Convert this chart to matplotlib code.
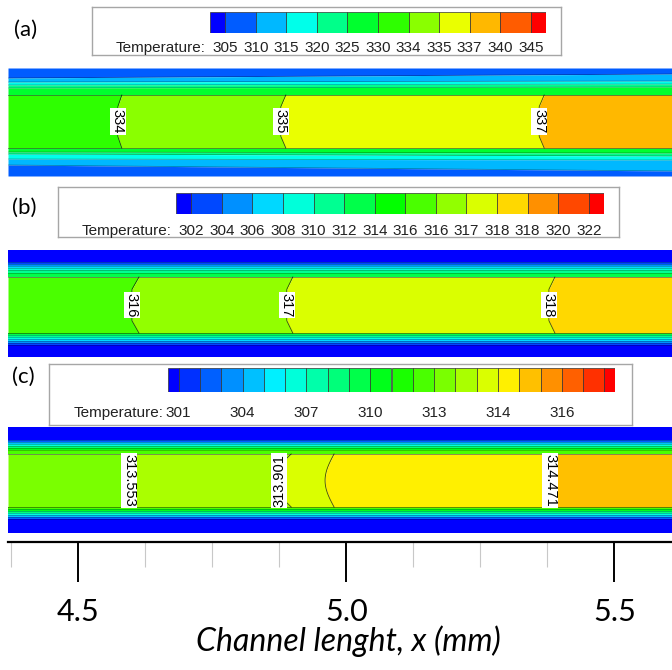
import numpy as np
import matplotlib.pyplot as plt
from matplotlib.colors import LinearSegmentedColormap
from matplotlib.ticker import MultipleLocator, FormatStrFormatter

plt.rcParams['font.family'] = ['Liberation Sans', 'DejaVu Sans']

W, H = 672, 670

# legend levels (K)
levels_a = ['305', '310', '315', '320', '325', '330', '334', '335', '337', '340', '345']
levels_b = ['302', '304', '306', '308', '310', '312', '314', '316', '316', '317', '318', '318', '320', '322']
levels_c = ['301', '304', '307', '310', '313', '314', '316']
nbound_c = 21  # contour levels in legend (c), every third one labelled

# isotherms in the channel core: x (mm) where they meet the wall
iso_x_a = [4.581, 4.887, 5.369]
iso_x_b = [4.613, 4.900, 5.389]
iso_x_c = [4.606, 4.897, 4.977, 5.393]
iso_lab_a = ['334', '335', '337']
iso_lab_b = ['316', '317', '318']
iso_lab_c = ['313.553', '313.901', '', '314.471']

# legend colour index filling the core between isotherms
core_a = [6, 7, 8, 9]
core_b = [8, 9, 10, 11]
core_c = [13, 14, 15, 16, 17]

# wall layers: rows from panel top at left / right end, colour index of each layer
top_a_l = [0, 10, 14, 17, 20, 27]
top_a_r = [0, 6, 13, 16, 19, 27]
top_a_c = [1, 2, 3, 4, 5]
bot_a_l = [80, 84, 86, 91, 97, 108]
bot_a_r = [80, 85, 88, 92, 103, 108]
bot_a_c = [5, 4, 3, 2, 1]

top_b_l = [0, 12, 14, 16, 18, 20, 23, 27]
top_b_r = [0, 12, 14, 16, 18, 20, 23, 27]
top_b_c = [0, 1, 2, 3, 4, 5, 6]
bot_b_l = [83, 85, 87, 89, 91, 93, 95, 107]
bot_b_r = [83, 85, 87, 89, 91, 93, 95, 107]
bot_b_c = [6, 5, 4, 3, 2, 1, 0]

top_c_l = [0, 13, 15, 17, 19, 21, 23, 27]
top_c_r = [0, 13, 15, 17, 19, 21, 23, 27]
top_c_c = [0, 2, 4, 6, 8, 10, 12]
bot_c_l = [80, 82, 84, 86, 88, 90, 92, 106]
bot_c_r = [80, 82, 84, 86, 88, 90, 92, 106]
bot_c_c = [12, 10, 8, 6, 4, 2, 0]

cmap = LinearSegmentedColormap.from_list(
    'fluent', ['#0000ff', '#00ffff', '#00ff00', '#ffff00', '#ff0000'])


def band_colors(n):
    return [cmap(i / (n - 1)) for i in range(n)]


fig = plt.figure(figsize=(W / 100, H / 100), dpi=100)


def px_axes(x0, y0, x1, y1):
    return fig.add_axes([x0 / W, 1 - y1 / H, (x1 - x0) / W, (y1 - y0) / H])


X0 = 4.5 - (78.4 - 8) / 536
X1 = 4.5 + (672 - 78.4) / 536
MM_PX = 1 / 536
LEG_FONT = 11


def legend(box, bar, levels, nb, every, cols, pad):
    bx = px_axes(*box)
    bx.set_xticks([])
    bx.set_yticks([])
    for s in bx.spines.values():
        s.set_color('#a6a6a6')
        s.set_linewidth(1)
    cx = px_axes(*bar)
    left = [-0.5] + list(range(nb - 1)) + [nb - 1]
    width = [0.5] + [1] * (nb - 1) + [0.5]
    cx.bar(left, 1, width=width, align='edge', color=cols,
           edgecolor='#333333', linewidth=0.5)
    cx.set_xlim(-0.5, nb - 0.5)
    cx.set_ylim(0, 1)
    cx.set_yticks([])
    cx.set_xticks(range(0, nb, every))
    cx.set_xticklabels(levels)
    cx.tick_params(length=0, pad=pad, labelsize=LEG_FONT, labelcolor='#222222')
    for s in cx.spines.values():
        s.set_visible(False)
    cx.annotate('Temperature:', xy=(0, 0), xycoords='axes fraction',
                xytext=(-3, -pad), textcoords='offset points', ha='right', va='top',
                fontsize=LEG_FONT, color='#222222')


def panel(rows, height, cols, walls, iso_x, bulge, arc, labels, rots, core):
    ax = px_axes(8, rows[0], 672, rows[1])
    ax.set_xlim(X0, X1)
    ax.set_ylim(height, 0)
    ax.axis('off')
    for yl, yr, cc in walls:
        for k in range(len(cc)):
            ax.fill_between([X0, X1], [yl[k], yr[k]], [yl[k + 1], yr[k + 1]],
                            color=cols[cc[k]], lw=0)
        for a, b in zip(yl[1:-1], yr[1:-1]):
            ax.plot([X0, X1], [a, b], color='k', lw=0.5, alpha=0.35)
    top, bot = walls[0][0][-1], walls[1][0][0]
    y = np.linspace(top, bot, 61)
    t = (y - top) / (bot - top)
    edges = [np.full_like(y, X0)]
    for x, b, a in zip(iso_x, bulge, arc):
        prof = np.sin(np.pi * t) if a else np.clip(np.minimum(t, 1 - t) / 0.22, 0, 1)
        edges.append(x - b * MM_PX * prof)
    edges.append(np.full_like(y, X1))
    for k, ci in enumerate(core):
        ax.fill_betweenx(y, edges[k], edges[k + 1], color=cols[ci], lw=0)
    for e in edges[1:-1]:
        ax.plot(e, y, color='k', lw=0.6, alpha=0.7)
    ax.plot([X0, X1], [top, top], color='k', lw=0.6, alpha=0.5)
    ax.plot([X0, X1], [bot, bot], color='k', lw=0.6, alpha=0.5)
    for e, lab, r in zip(edges[1:-1], labels, rots):
        if lab:
            ax.text(e[30], (top + bot) / 2, lab, rotation=r, ha='center', va='center',
                    fontsize=10.5, color='k',
                    bbox=dict(boxstyle='square,pad=0.08', fc='white', ec='none'))


cols_a = band_colors(len(levels_a) + 1)
cols_b = band_colors(len(levels_b) + 1)
cols_c = band_colors(nbound_c + 1)

# (a)
fig.text(14 / W, 1 - 30 / H, '(a)', fontsize=16, family='Lato', va='center')
legend((92, 7, 561, 55), (210, 12, 546, 33), levels_a, len(levels_a), 1, cols_a, 5.5)
panel((68, 176), 108, cols_a,
      [(top_a_l, top_a_r, top_a_c), (bot_a_l, bot_a_r, bot_a_c)],
      iso_x_a, [4, 5, 5], [0, 0, 0], iso_lab_a, [270, 270, 270], core_a)

# (b)
fig.text(12 / W, 1 - 208 / H, '(b)', fontsize=16, family='Lato', va='center')
legend((58, 187, 619, 237), (176, 193, 604, 214), levels_b, len(levels_b), 1, cols_b, 7)
panel((250, 357), 107, cols_b,
      [(top_b_l, top_b_r, top_b_c), (bot_b_l, bot_b_r, bot_b_c)],
      iso_x_b, [7, 6, 6], [0, 0, 0], iso_lab_b, [270, 270, 270], core_b)

# (c)
fig.text(12 / W, 1 - 377 / H, '(c)', fontsize=16, family='Lato', va='center')
legend((49, 364, 632, 425), (168, 368, 615, 392), levels_c, nbound_c, 3, cols_c, 10)
panel((427, 533), 106, cols_c,
      [(top_c_l, top_c_r, top_c_c), (bot_c_l, bot_c_r, bot_c_c)],
      iso_x_c, [6, 12, 9, 7], [0, 0, 1, 0], iso_lab_c, [270, 90, 0, 270], core_c)

# channel length axis
axx = px_axes(8, 500, 672, 542)
axx.set_xlim(X0, X1)
axx.patch.set_visible(False)
for s in ['top', 'left', 'right']:
    axx.spines[s].set_visible(False)
axx.spines['bottom'].set_linewidth(1.6)
axx.set_yticks([])
axx.xaxis.set_major_locator(MultipleLocator(0.5))
axx.xaxis.set_minor_locator(MultipleLocator(0.125))
axx.xaxis.set_major_formatter(FormatStrFormatter('%.1f'))
axx.tick_params(which='major', direction='out', length=29, width=1.4, labelsize=22, pad=11)
axx.tick_params(which='minor', direction='out', length=18, width=0.8, color='#c8c8c8')
for lab in axx.get_xticklabels():
    lab.set_family('Lato')
axx.set_xlabel('Channel lenght, x (mm)', fontsize=23, family='Lato', style='italic', va='center')
axx.xaxis.set_label_coords((348 - 8) / 664, (542 - 641) / 42)

fig.savefig('out.png', dpi=100)
